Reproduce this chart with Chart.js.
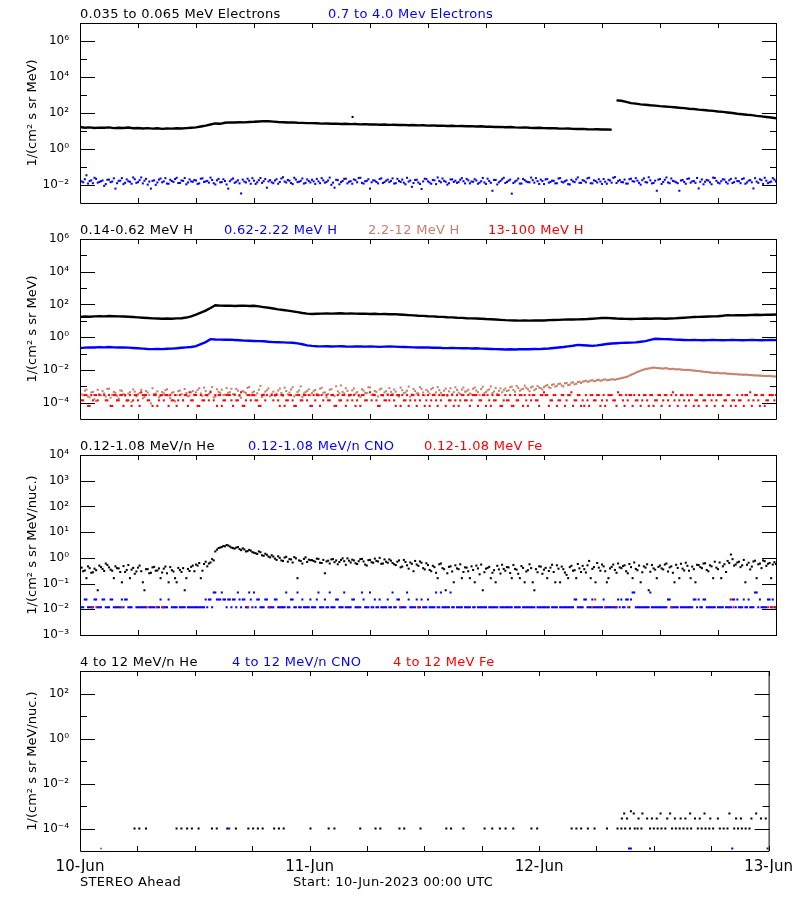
<!DOCTYPE html>
<html>
<head>
<meta charset="utf-8">
<script src="https://cdn.jsdelivr.net/npm/chart.js@4.4.0/dist/chart.umd.min.js"></script>
<style>
  body { margin: 0; background: #fff; }
  #page { position: relative; width: 800px; height: 900px; overflow: hidden; font-family: 'DejaVu Sans', sans-serif; }
  #page canvas { position: absolute; left: 0; }
  .lbl { position: absolute; font-size: 13px; line-height: 15px; white-space: nowrap; letter-spacing: 0.3px; }
</style>
</head>
<body>
<div id="page">
  <canvas id="pElec" width="800" height="204" style="top:11px"></canvas>
  <canvas id="pProt" width="800" height="204" style="top:227px"></canvas>
  <canvas id="pLoZ" width="800" height="204" style="top:443px"></canvas>
  <canvas id="pHiZ" width="800" height="241" style="top:659px"></canvas>
</div>
<script>
// time axis: hours since 10-Jun-2023 00:00 UTC
const xTickHours = [0, 6, 12, 18, 24, 30, 36, 42, 48, 54, 60, 66, 72];
const dayHours = [0, 24, 48, 72];
const dayLabels = ['10-Jun', '11-Jun', '12-Jun', '13-Jun'];

// ---- panel 1: electrons (log10 flux) ----
const p1Names = ['0.035 to 0.065 MeV Electrons', '0.7 to 4.0 Mev Electrons'];
const p1Colors = ['#000000', '#0000ff'];
// 30 min steps
const p1LowELog = [
  1.22, 1.18, 1.20, 1.17, 1.19, 1.18, 1.20, 1.16, 1.18, 1.17, 1.19, 1.15,
  1.17, 1.14, 1.16, 1.13, 1.15, 1.12, 1.14, 1.13, 1.15, 1.14, 1.16, 1.18,
  1.20, 1.25, 1.30, 1.36, 1.42, 1.40, 1.46, 1.48, 1.47, 1.49, 1.48, 1.50,
  1.51, 1.53, 1.55, 1.54, 1.52, 1.50, 1.49, 1.47, 1.48, 1.46, 1.45, 1.44,
  1.44, 1.43, 1.41, 1.42, 1.40, 1.41, 1.39, 1.40, 1.38, 1.39, 1.37, 1.38,
  1.36, 1.37, 1.35, 1.36, 1.34, 1.35, 1.33, 1.34, 1.32, 1.33, 1.31, 1.32,
  1.30, 1.31, 1.29, 1.30, 1.28, 1.29, 1.27, 1.28, 1.26, 1.27, 1.25, 1.26,
  1.24, 1.24, 1.22, 1.23, 1.21, 1.22, 1.20, 1.19, 1.20, 1.18, 1.17, 1.18,
  1.16, 1.15, 1.16, 1.14, 1.13, 1.14, 1.12, 1.11, 1.12, 1.10, 1.09, 1.10,
  1.08, 1.09, 1.07, 2.70, 2.68, 2.62, 2.55, 2.52, 2.48, 2.46, 2.43, 2.41,
  2.38, 2.36, 2.34, 2.32, 2.29, 2.27, 2.24, 2.22, 2.19, 2.17, 2.14, 2.12,
  2.08, 2.06, 2.03, 2.00, 1.96, 1.93, 1.90, 1.88, 1.84, 1.81, 1.78, 1.75,
  1.71
];
const p1LowEOutHours = [28.2];
const p1LowEOutLog = [1.78];
// 20 min steps, on the hour grid
const p1HighELog = [
  -1.72, -1.85, -1.46, -1.78, -1.90, -1.66, -1.83, -1.75, -1.95, -1.70, -1.81, -2.20,
  -1.77, -1.62, -1.88, -1.79, -1.93, -1.68, -1.84, -1.58, -1.76, -1.98, -2.20, -1.74,
  -1.86, -1.64, -1.80, -1.92, -1.71, -1.83, -1.60, -1.89, -1.77, -1.96, -1.69, -1.82,
  -1.75, -1.91, -1.63, -1.80, -1.87, -1.72, -1.97, -1.66, -1.84, -1.78, -2.20, -1.70,
  -1.88, -1.74, -2.47, -1.81, -1.65, -1.93, -1.76, -1.85, -1.61, -1.79, -2.15, -1.73,
  -1.90, -1.68, -1.83, -1.57, -1.86, -1.76, -1.95, -1.70, -1.82, -1.64, -1.88, -1.78,
  -1.71, -1.94, -1.80, -1.62, -1.87, -1.75, -1.99, -2.15, -1.73, -1.84, -1.66, -1.91,
  -1.79, -1.69, -1.85, -1.60, -1.92, -1.77, -2.20, -1.74, -1.83, -1.67, -1.89, -1.76,
  -1.84, -1.63, -1.90, -1.78, -1.70, -1.96, -1.81, -2.10, -1.72, -1.86, -2.22, -1.65,
  -1.80, -1.93, -1.74, -1.58, -1.85, -1.77, -1.98, -1.69, -1.83, -1.88, -1.71, -1.79,
  -1.66, -1.91, -1.82, -1.75, -1.87, -1.61, -1.94, -1.78, -2.32, -1.72, -1.85, -1.68,
  -1.89, -1.76, -2.48, -1.81, -1.64, -1.92, -1.73, -1.84, -1.59, -1.87, -1.79, -1.70,
  -1.95, -1.67, -1.83, -1.77, -1.90, -1.62, -1.86, -1.74, -1.97, -1.80, -1.69, -1.88,
  -1.73, -1.85, -1.60, -1.91, -1.78, -1.68, -1.94, -1.82, -1.71, -1.87, -1.56, -1.79,
  -1.84, -1.70, -1.92, -1.65, -1.81, -1.76, -1.98, -1.63, -1.86, -1.74, -1.89, -2.32,
  -1.67, -1.83, -1.58, -1.90, -1.77, -1.85, -2.32, -1.72, -1.93, -1.64, -1.80, -1.88,
  -2.19, -1.69, -1.82, -1.75, -1.96, -1.61, -1.87, -1.79, -1.70, -1.92, -1.66, -1.84,
  -1.78, -1.90, -1.63, -1.86, -1.73, -2.19, -1.81, -1.68, -1.94, -1.76, -1.85, -1.62,
  -1.80
];
// 20 min steps, 10 min after the grid above
const p1HighELogB = [
  -1.80, -1.68, -1.92, -1.74, -1.60, -1.87, -1.79, -2.05, -1.71, -1.84, -1.63, -1.90,
  -1.76, -1.95, -1.69, -1.82, -1.58, -1.88, -1.73, -1.91, -1.66, -1.81, -1.77, -1.99,
  -1.70, -1.85, -1.62, -1.93, -1.78, -1.67, -1.89, -1.75, -1.61, -1.86, -1.80, -1.72,
  -1.94, -1.65, -1.83, -1.77, -1.59, -1.90, -1.74, -1.85, -1.68, -1.97, -1.79, -1.64,
  -1.82, -1.91, -1.70, -1.86, -1.76, -1.62, -1.94, -1.73, -1.88, -1.67, -1.80, -1.85,
  -1.75, -1.93, -1.64, -1.81, -1.72, -1.89, -1.60, -1.84, -1.77, -1.92, -1.69, -1.86,
  -1.80, -1.66, -1.90, -1.74, -1.83, -1.59, -1.87, -1.71, -1.96, -1.78, -1.65, -1.82,
  -1.93, -1.73, -1.61, -1.88, -1.79, -1.68, -1.85, -1.76, -1.91, -1.63, -1.84, -1.70,
  -1.77, -1.92, -1.66, -1.83, -1.87, -1.60, -1.75, -1.89, -1.71, -1.94, -1.80, -1.67,
  -1.86, -1.72, -1.95, -1.78, -1.64, -1.82, -1.90, -1.69, -1.76, -1.84, -1.62, -1.91,
  -1.74, -1.81, -1.68, -1.93, -1.79, -1.86, -1.65, -1.88, -1.72, -1.97, -1.77, -1.60,
  -1.83, -1.70, -1.89, -1.75, -1.92, -1.66, -1.80, -1.85, -1.73, -1.62, -1.94, -1.78,
  -1.69, -1.87, -1.76, -1.91, -1.64, -1.82, -1.79, -1.95, -1.71, -1.84, -1.58, -1.88,
  -1.77, -1.63, -1.90, -1.74, -1.86, -1.81, -1.67, -1.93, -1.75, -1.60, -1.89, -1.72,
  -1.85, -1.92, -1.68, -1.79, -1.62, -1.88, -1.73, -1.84, -1.57, -1.91, -1.76, -1.70,
  -1.94, -1.71, -1.86, -1.64, -1.80, -1.90, -1.75, -1.83, -1.66, -1.87, -1.78, -1.61,
  -1.82, -1.96, -1.72, -1.85, -1.59, -1.77, -1.91, -1.68, -1.84, -1.74, -1.89, -1.63,
  -1.79, -1.67, -1.93, -1.76, -1.85, -1.62, -1.88, -1.73, -1.60, -1.90, -1.81, -1.70
];

// ---- panel 2: protons ----
const p2Names = ['0.14-0.62 MeV H', '0.62-2.22 MeV H', '2.2-12 MeV H', '13-100 MeV H'];
const p2Colors = ['#000000', '#0000ff', '#c8806a', '#ff0000'];
// 30 min steps
const p2H1Log = [
  1.24, 1.26, 1.25, 1.27, 1.28, 1.27, 1.29, 1.28, 1.27, 1.26, 1.25, 1.23,
  1.21, 1.19, 1.17, 1.15, 1.14, 1.13, 1.14, 1.13, 1.15, 1.16, 1.20, 1.27,
  1.38, 1.50, 1.62, 1.78, 1.95, 1.93, 1.92, 1.93, 1.91, 1.92, 1.93, 1.91,
  1.92, 1.88, 1.84, 1.80, 1.75, 1.70, 1.66, 1.62, 1.58, 1.53, 1.48, 1.44,
  1.42, 1.43, 1.44, 1.45, 1.44, 1.45, 1.46, 1.44, 1.45, 1.44, 1.43, 1.44,
  1.42, 1.43, 1.41, 1.42, 1.40, 1.41, 1.39, 1.37, 1.35, 1.33, 1.31, 1.30,
  1.28, 1.27, 1.25, 1.24, 1.22, 1.21, 1.19, 1.18, 1.16, 1.15, 1.14, 1.13,
  1.11, 1.10, 1.08, 1.06, 1.04, 1.03, 1.02, 1.01, 1.02, 1.01, 1.02, 1.03,
  1.02, 1.04, 1.05, 1.06, 1.07, 1.08, 1.08, 1.09, 1.10, 1.11, 1.13, 1.15,
  1.17, 1.18, 1.16, 1.14, 1.13, 1.12, 1.11, 1.12, 1.13, 1.14, 1.13, 1.14,
  1.14, 1.13, 1.14, 1.15, 1.17, 1.19, 1.21, 1.23, 1.24, 1.25, 1.26, 1.27,
  1.28, 1.31, 1.35, 1.33, 1.34, 1.35, 1.34, 1.36, 1.37, 1.36, 1.38, 1.37,
  1.39
];
const p2H2Log = [
  -0.67, -0.64, -0.62, -0.63, -0.61, -0.62, -0.60, -0.62, -0.63, -0.62, -0.64, -0.66,
  -0.68, -0.70, -0.72, -0.73, -0.72, -0.73, -0.71, -0.70, -0.68, -0.65, -0.62, -0.60,
  -0.55, -0.42, -0.30, -0.12, -0.14, -0.15, -0.16, -0.15, -0.17, -0.19, -0.21, -0.22,
  -0.23, -0.24, -0.25, -0.28, -0.30, -0.31, -0.32, -0.33, -0.34, -0.38, -0.43, -0.50,
  -0.53, -0.55, -0.56, -0.55, -0.57, -0.56, -0.55, -0.57, -0.58, -0.57, -0.56, -0.58,
  -0.57, -0.58, -0.59, -0.58, -0.57, -0.58, -0.59, -0.60, -0.61, -0.62, -0.63, -0.62,
  -0.63, -0.65, -0.64, -0.66, -0.67, -0.66, -0.67, -0.68, -0.67, -0.69, -0.68, -0.70,
  -0.71, -0.72, -0.73, -0.74, -0.75, -0.74, -0.75, -0.74, -0.73, -0.74, -0.72, -0.73,
  -0.71, -0.69, -0.66, -0.63, -0.60, -0.56, -0.52, -0.47, -0.49, -0.51, -0.53, -0.50,
  -0.46, -0.42, -0.39, -0.37, -0.35, -0.34, -0.33, -0.32, -0.28, -0.24, -0.16, -0.10,
  -0.11, -0.12, -0.13, -0.15, -0.16, -0.17, -0.18, -0.17, -0.18, -0.19, -0.18, -0.17,
  -0.18, -0.19, -0.18, -0.17, -0.18, -0.19, -0.18, -0.17, -0.18, -0.19, -0.18, -0.17,
  -0.18
];
// 20 min steps
const p2H3Log = [
  -3.42, -3.55, -3.20, -3.68, -3.35, -3.90, -3.48, -3.30, -3.62, -3.15, -3.52, -3.40,
  -3.75, -3.28, -3.58, -3.45, -3.95, -3.33, -3.50, -3.22, -3.66, -3.38, -4.05, -3.47,
  -3.31, -3.60, -3.43, -3.18, -3.72, -3.36, -3.54, -3.26, -3.85, -3.41, -3.57, -3.29,
  -3.37, -3.12, -3.58, -3.30, -3.46, -3.05, -3.63, -3.34, -3.21, -3.52, -3.40, -3.15,
  -3.48, -3.27, -3.70, -3.36, -3.10, -3.55, -3.32, -3.43, -2.98, -3.50, -3.24, -3.61,
  -3.33, -3.45, -3.14, -3.58, -3.29, -3.39, -3.06, -3.53, -3.25, -3.66, -3.35, -3.19,
  -3.42, -3.23, -3.56, -3.09, -3.38, -3.47, -3.17, -3.60, -3.31, -2.95, -3.44, -3.28,
  -3.52, -3.13, -3.36, -3.65, -3.26, -3.41, -3.07, -3.49, -3.34, -3.20, -3.57, -3.30,
  -3.11, -3.46, -3.33, -3.62, -3.24, -3.38, -3.02, -3.51, -3.29, -3.43, -3.16, -3.55,
  -3.32, -3.18, -3.50, -3.05, -3.40, -3.27, -3.58, -3.12, -3.36, -3.22, -3.47, -3.08,
  -3.30, -3.44, -3.15, -3.26, -3.53, -3.03, -3.35, -3.19, -3.41, -3.10, -3.28, -3.37,
  -3.14, -3.25, -3.02, -3.33, -3.11, -3.20, -2.96, -3.18, -3.07, -3.24, -2.99, -3.12,
  -3.05, -2.92, -3.10, -2.88, -2.97, -2.84, -3.01, -2.80, -2.90, -2.76, -2.85, -2.72,
  -2.72, -2.66, -2.70, -2.63, -2.67, -2.60, -2.64, -2.58, -2.62, -2.57, -2.60, -2.55,
  -2.50, -2.46, -2.40, -2.30, -2.22, -2.12, -2.05, -1.98, -1.93, -1.90, -1.86, -1.88,
  -1.90, -1.92, -1.89, -1.95, -1.93, -1.97, -1.96, -1.99, -2.01, -2.00, -2.03, -2.05,
  -2.07, -2.10, -2.12, -2.14, -2.17, -2.19, -2.18, -2.21, -2.20, -2.23, -2.24, -2.26,
  -2.27, -2.28, -2.30, -2.29, -2.32, -2.33, -2.34, -2.35, -2.36, -2.38, -2.37, -2.39,
  -2.40
];
const p2H3LogB = [
  -3.50, -3.27, -3.63, -3.38, -3.80, -3.22, -3.55, -3.44, -3.16, -3.70, -3.34, -3.58,
  -3.25, -3.47, -3.88, -3.36, -3.19, -3.61, -3.42, -3.74, -3.29, -3.53, -3.12, -3.45,
  -3.67, -3.35, -3.24, -3.56, -3.40, -3.92, -3.30, -3.48, -3.17, -3.62, -3.37, -3.51,
  -3.22, -3.44, -3.08, -3.57, -3.31, -3.68, -3.18, -3.40, -3.53, -3.11, -3.36, -3.49,
  -3.16, -3.60, -3.29, -3.42, -3.04, -3.38, -3.55, -3.21, -3.65, -3.33, -3.13, -3.46,
  -3.58, -3.26, -3.41, -3.09, -3.50, -3.19, -3.62, -3.35, -3.01, -3.44, -3.28, -3.54,
  -3.30, -3.48, -3.15, -3.39, -3.67, -3.21, -3.52, -3.00, -3.43, -3.34, -3.12, -3.58,
  -3.25, -3.45, -3.59, -3.18, -3.40, -3.06, -3.53, -3.29, -3.62, -3.14, -3.37, -3.47,
  -3.34, -3.20, -3.56, -3.08, -3.41, -3.27, -3.63, -3.17, -3.44, -3.05, -3.38, -3.22,
  -3.45, -3.10, -3.37, -3.24, -3.55, -3.14, -3.31, -3.48, -3.06, -3.39, -3.20, -3.33,
  -3.21, -3.50, -3.08, -3.36, -3.17, -3.43, -3.25, -3.01, -3.32, -3.46, -3.13, -3.24,
  -3.29, -3.06, -3.22, -2.98, -3.27, -3.15, -3.09, -3.30, -3.01, -3.16, -3.08, -3.20,
  -2.98, -3.06, -2.91, -3.02, -2.86, -2.95, -2.82, -2.93, -2.78, -2.88, -2.74, -2.80,
  -2.69, -2.73, -2.65, -2.69, -2.62, -2.66, -2.59, -2.63, -2.60, -2.58, -2.57, -2.53,
  -2.48, -2.43, -2.35, -2.26, -2.17, -2.09, -2.01, -1.95, -1.91, -1.87, -1.87, -1.89,
  -1.91, -1.90, -1.92, -1.94, -1.95, -1.96, -1.98, -2.00, -2.00, -2.02, -2.04, -2.06,
  -2.08, -2.11, -2.13, -2.15, -2.18, -2.17, -2.20, -2.21, -2.22, -2.24, -2.25, -2.26,
  -2.28, -2.29, -2.29, -2.31, -2.32, -2.34, -2.34, -2.36, -2.37, -2.37, -2.38, -2.40
];
// 13-100 MeV H sits on count levels: code -> flux
const p2H4Levels = [null, 6.3e-5, 1.38e-4, 2.9e-4, 4.3e-4];
const p2H4Code = [
  3, 2, 3, 1, 2, 3, 3, 0, 2, 3, 1, 3,
  2, 3, 3, 2, 1, 3, 2, 4, 3, 2, 0, 3,
  1, 3, 2, 3, 3, 2, 1, 3, 2, 3, 4, 2,
  3, 1, 2, 3, 2, 0, 3, 3, 1, 2, 3, 2,
  3, 2, 4, 1, 3, 2, 3, 2, 1, 3, 3, 0,
  2, 3, 1, 3, 2, 3, 2, 1, 3, 2, 3, 3,
  1, 2, 3, 3, 0, 2, 3, 1, 3, 2, 3, 2,
  3, 3, 2, 1, 3, 2, 4, 3, 2, 1, 3, 2,
  2, 3, 1, 3, 3, 2, 1, 3, 2, 3, 0, 1,
  3, 2, 3, 1, 2, 3, 3, 2, 1, 3, 2, 3,
  2, 1, 3, 3, 2, 3, 1, 2, 3, 2, 3, 1,
  3, 2, 1, 3, 2, 3, 3, 1, 2, 3, 2, 3,
  4, 3, 2, 3, 1, 2, 3, 2, 3, 1, 2, 3,
  2, 3, 1, 3, 2, 3, 2, 1, 3, 3, 2, 4,
  3, 1, 2, 3, 3, 2, 1, 3, 2, 3, 1, 2,
  3, 2, 3, 1, 4, 3, 2, 3, 1, 2, 3, 2,
  1, 3, 2, 3, 2, 1, 3, 3, 2, 3, 1, 2,
  3, 2, 1, 3, 4, 2, 3, 1, 3, 2, 3, 3,
  3
];
const p2H4CodeB = [
  2, 3, 1, 3, 3, 2, 0, 3, 2, 1, 3, 2,
  3, 1, 2, 3, 2, 3, 1, 3, 3, 2, 1, 3,
  2, 3, 3, 1, 2, 3, 2, 0, 3, 1, 2, 3,
  1, 3, 2, 3, 4, 2, 1, 3, 2, 3, 3, 1,
  2, 3, 1, 2, 3, 3, 2, 1, 3, 2, 0, 3,
  3, 2, 3, 1, 2, 3, 1, 3, 2, 3, 2, 1,
  3, 3, 1, 2, 3, 2, 3, 1, 2, 3, 1, 3,
  2, 1, 3, 3, 2, 0, 2, 3, 1, 3, 2, 3,
  3, 2, 3, 1, 2, 3, 2, 3, 1, 2, 3, 2,
  1, 3, 2, 3, 3, 1, 2, 3, 2, 1, 3, 2,
  3, 2, 3, 1, 2, 3, 3, 1, 2, 3, 1, 2,
  2, 3, 1, 2, 3, 1, 2, 3, 3, 2, 1, 3,
  3, 1, 2, 3, 2, 3, 1, 3, 4, 2, 3, 1,
  1, 2, 3, 2, 3, 1, 3, 2, 3, 2, 1, 3,
  2, 3, 3, 1, 2, 3, 2, 3, 1, 3, 2, 3,
  1, 3, 2, 3, 2, 1, 3, 2, 3, 3, 1, 2,
  3, 2, 1, 3, 3, 2, 3, 1, 2, 3, 2, 1,
  2, 3, 3, 2, 1, 3, 2, 3, 1, 2, 3, 2
];

// ---- panel 3: low energy heavy ions ----
const p3Names = ['0.12-1.08 MeV/n He', '0.12-1.08 MeV/n CNO', '0.12-1.08 MeV Fe'];
const p3Colors = ['#000000', '#0000ff', '#ff0000'];
// 20 min steps
const p3HeLog = [
  -0.45, -0.52, -0.79, -0.40, -0.56, -0.48, -0.30, -0.43, -0.22, -0.37, -0.50, -0.33,
  -0.41, -0.95, -0.55, -0.28, -0.46, -0.62, -0.38, -0.52, -1.26, -0.44, -0.58, -0.35,
  -0.49, -0.79, -0.42, -0.60, -0.36, -0.53, -0.95, -0.47, -0.40, -0.79, -0.51, -0.30,
  -0.26, -0.20, -0.50, -0.15, -0.22, -0.05, 0.25, 0.38, 0.42, 0.45, 0.48, 0.40,
  0.36, 0.42, 0.30, 0.33, 0.26, 0.28, 0.20, 0.15, 0.22, 0.08, 0.12, 0.02,
  0.05, -0.08, 0.00, -0.12, 0.04, -0.05, -0.18, -0.02, -0.10, -0.22, 0.02, -0.07,
  -0.09, -0.15, -0.04, -0.20, -0.60, -0.11, -0.06, -0.17, -0.25, -0.08, -0.13, -0.02,
  -0.18, -0.10, -0.24, -0.05, -0.14, -0.30, -0.08, -0.19, -0.12, 0.00, -0.22, -0.15,
  -0.06, -0.20, -0.28, -0.10, -0.34, -0.16, -0.42, -0.23, -0.12, -0.31, -0.19, -0.45,
  -0.28, -0.52, -0.36, -0.79, -0.22, -0.44, -0.60, -0.33, -0.95, -0.41, -0.25, -0.55,
  -0.38, -0.79, -0.47, -0.30, -0.64, -1.26, -0.42, -0.35, -0.58, -0.95, -0.45, -0.27,
  -0.50, -0.37, -0.79, -0.43, -0.62, -0.32, -0.95, -0.48, -0.40, -1.26, -0.56, -0.34,
  -0.46, -0.79, -0.38, -0.55, -0.29, -0.95, -0.44, -0.66, -0.36, -0.50, -0.79, -0.41,
  -0.31, -0.57, -0.12, -0.43, -0.95, -0.38, -0.26, -0.52, -0.79, -0.35, -0.47, -0.22,
  -0.40, -0.29, -0.60, -0.36, -0.18, -0.48, -0.95, -0.33, -0.25, -0.54, -0.41, -0.79,
  -0.30, -0.45, -0.22, -0.37, -0.58, -0.27, -0.79, -0.42, -0.19, -0.50, -0.34, -0.95,
  -0.28, -0.40, -0.21, -0.52, -0.33, -0.15, -0.44, -0.79, -0.25, -0.12, 0.13, -0.30,
  -0.18, -0.36, -0.08, -0.27, -0.45, -0.14, -0.79, -0.22, -0.10, -0.31, -0.20, -0.26,
  -0.24
];
const p3HeLogB = [
  -0.38, -0.49, -0.33, -0.58, -0.42, -1.26, -0.36, -0.51, -0.28, -0.46, -0.79, -0.40,
  -0.55, -0.32, -0.47, -0.79, -0.39, -0.53, -0.30, -0.95, -0.44, -0.60, -0.37, -0.50,
  -0.41, -0.57, -0.34, -0.95, -0.48, -0.79, -0.39, -0.55, -1.26, -0.43, -0.35, -0.52,
  -0.30, -0.79, -0.24, -0.33, -0.18, -0.10, 0.32, 0.40, 0.46, 0.50, 0.44, 0.38,
  0.40, 0.34, 0.37, 0.25, 0.31, 0.22, 0.18, 0.25, 0.10, 0.16, 0.05, 0.10,
  -0.03, 0.06, -0.10, 0.01, -0.15, -0.06, 0.03, -0.79, -0.12, -0.04, -0.16, -0.09,
  -0.12, -0.03, -0.19, -0.08, -0.14, -0.22, -0.05, -0.10, -0.16, -0.02, -0.27, -0.11,
  -0.07, -0.21, -0.13, -0.04, -0.26, -0.09, -0.17, -0.03, -0.14, -0.23, -0.06, -0.19,
  -0.11, -0.25, -0.15, -0.37, -0.08, -0.29, -0.18, -0.52, -0.26, -0.14, -0.40, -0.21,
  -0.47, -0.31, -0.58, -0.25, -0.40, -1.26, -0.35, -0.53, -0.29, -0.44, -0.79, -0.37,
  -0.52, -0.33, -0.95, -0.41, -0.26, -0.56, -0.39, -0.79, -0.48, -0.31, -0.61, -0.43,
  -0.36, -0.59, -0.28, -0.46, -0.79, -0.39, -0.53, -0.25, -0.95, -0.44, -0.33, -0.62,
  -0.39, -0.51, -0.27, -0.95, -0.42, -0.34, -0.57, -0.79, -0.31, -0.48, -0.24, -0.55,
  -0.44, -0.29, -0.79, -0.36, -0.20, -0.50, -0.33, -0.95, -0.41, -0.26, -0.58, -0.37,
  -0.32, -0.52, -0.24, -0.79, -0.43, -0.30, -0.56, -0.38, -1.26, -0.28, -0.46, -0.35,
  -0.41, -0.26, -0.53, -0.33, -0.95, -0.39, -0.23, -0.49, -0.31, -0.79, -0.44, -0.27,
  -0.36, -0.22, -0.47, -0.29, -0.79, -0.38, -0.18, -0.33, -0.55, -0.20, -0.05, -0.26,
  -0.15, -0.29, -0.95, -0.19, -0.34, -0.11, -0.25, -0.40, -0.13, -0.23, -0.79, -0.17
];
const p3CnoLevels = [null, 0.012, 0.024, 0.045];
const p3CnoCode = [
  2, 1, 2, 1, 1, 2, 1, 2, 1, 1, 2, 1,
  1, 2, 2, 1, 1, 0, 1, 1, 1, 0, 1, 1,
  1, 2, 1, 1, 0, 1, 1, 1, 1, 0, 1, 1,
  1, 1, 1, 2, 2, 1, 3, 2, 3, 2, 2, 1,
  2, 3, 1, 2, 1, 2, 3, 2, 1, 1, 2, 1,
  1, 2, 1, 1, 3, 1, 2, 1, 1, 2, 1, 1,
  1, 1, 3, 1, 2, 1, 1, 1, 2, 1, 3, 1,
  1, 2, 1, 1, 2, 1, 3, 1, 1, 2, 1, 1,
  1, 3, 1, 2, 1, 1, 2, 1, 1, 1, 2, 1,
  2, 1, 1, 1, 3, 1, 1, 3, 1, 1, 1, 0,
  1, 1, 1, 0, 1, 1, 1, 1, 1, 1, 0, 1,
  1, 1, 1, 1, 1, 0, 1, 1, 1, 1, 1, 1,
  1, 1, 0, 1, 1, 1, 1, 1, 1, 1, 2, 1,
  1, 2, 1, 2, 1, 1, 1, 1, 1, 1, 1, 2,
  2, 1, 2, 2, 3, 1, 1, 1, 1, 3, 1, 1,
  1, 1, 1, 2, 1, 1, 0, 1, 1, 1, 1, 2,
  2, 1, 2, 1, 1, 1, 1, 1, 0, 1, 1, 2,
  2, 1, 2, 1, 1, 1, 3, 2, 1, 1, 2, 2,
  1
];
const p3CnoCodeB = [
  1, 2, 1, 1, 2, 1, 1, 2, 1, 2, 1, 1,
  1, 1, 2, 1, 0, 1, 1, 1, 1, 1, 1, 0,
  1, 1, 1, 2, 1, 1, 0, 1, 1, 1, 1, 1,
  1, 1, 1, 1, 2, 3, 2, 2, 2, 1, 2, 2,
  1, 2, 2, 1, 3, 1, 1, 2, 1, 2, 1, 1,
  2, 1, 1, 1, 1, 2, 1, 3, 1, 1, 1, 2,
  1, 2, 1, 1, 1, 3, 1, 2, 1, 1, 1, 1,
  2, 1, 1, 3, 1, 1, 1, 2, 1, 1, 1, 2,
  1, 1, 2, 1, 1, 3, 1, 1, 2, 1, 1, 1,
  1, 1, 3, 1, 1, 1, 1, 1, 0, 1, 1, 1,
  1, 0, 1, 1, 1, 1, 0, 1, 1, 1, 1, 1,
  1, 1, 0, 1, 1, 1, 1, 1, 1, 0, 1, 1,
  1, 1, 1, 1, 0, 1, 1, 1, 1, 2, 1, 1,
  2, 1, 1, 1, 1, 1, 2, 1, 1, 1, 1, 1,
  1, 2, 1, 3, 1, 1, 1, 1, 1, 1, 1, 1,
  1, 1, 2, 1, 1, 1, 1, 1, 1, 1, 2, 1,
  1, 2, 1, 1, 1, 0, 1, 1, 1, 1, 2, 1,
  1, 1, 1, 2, 1, 3, 1, 1, 1, 2, 1, 1
];
const p3FeHours = [1.3, 1.7, 4.3, 6.9, 7.9, 8.6, 17.4, 19.6, 33.1, 35.0, 53.0, 53.3, 54.3, 55.5, 56.7, 61.2, 67.3, 67.6, 71.2, 71.6, 71.9];
const p3FeFlux = [0.012, 0.012, 0.012, 0.012, 0.012, 0.012, 0.012, 0.012, 0.012, 0.012, 0.012, 0.024, 0.012, 0.012, 0.012, 0.012, 0.024, 0.012, 0.012, 0.012, 0.012];

// ---- panel 4: high energy heavy ions ----
const p4Names = ['4 to 12 MeV/n He', '4 to 12 MeV/n CNO', '4 to 12 MeV Fe'];
const p4Colors = ['#000000', '#0000ff', '#ff0000'];
const p4HeBaseFlux = 1.0e-4;
const p4HeBaseHours = [5.7, 6.2, 6.9, 10.1, 10.6, 11.2, 11.7, 12.4, 13.8, 14.3, 15.4, 16.3, 17.6, 18.1, 18.6, 19.1,
  20.3, 20.8, 21.3, 24.1, 26.0, 26.6, 29.3, 30.9, 31.4, 33.4, 33.9, 35.6, 38.3, 38.8, 40.1, 42.3, 43.1, 43.9, 44.5,
  45.3, 47.2, 47.8, 51.4, 51.9, 52.4, 53.1, 53.8, 55.1, 56.2, 56.6, 57.0, 57.5, 58.0, 58.3, 58.7, 59.6, 60.0, 60.4,
  60.8, 61.2, 61.9, 62.3, 62.7, 63.1, 63.5, 63.9, 64.6, 65.0, 65.4, 65.8, 66.2, 66.9, 67.3, 67.7, 68.4, 68.8, 69.2,
  69.6, 70.0];
const p4HeHighHours = [56.65, 56.9, 57.2, 57.6, 57.9, 58.4, 58.8, 59.3, 59.8, 60.3, 60.7, 61.4, 61.7, 62.2, 62.8,
  63.3, 63.8, 64.3, 64.8, 65.3, 65.9, 66.7, 67.9, 68.6, 69.1, 70.2, 70.7, 71.2, 71.7];
const p4HeHighFlux = [2.8e-4, 4.6e-4, 2.8e-4, 5.9e-4, 4.6e-4, 2.8e-4, 4.6e-4, 2.8e-4, 2.8e-4, 2.8e-4, 4.6e-4, 2.8e-4,
  4.6e-4, 2.8e-4, 2.8e-4, 2.8e-4, 4.6e-4, 2.8e-4, 2.8e-4, 4.6e-4, 2.8e-4, 2.8e-4, 4.6e-4, 2.8e-4, 2.8e-4, 2.8e-4,
  4.6e-4, 2.8e-4, 2.8e-4];
const p4CnoHours = [15.6, 57.4, 57.6, 59.6, 68.2, 71.9];
const p4CnoFlux = [1.0e-4, 1.3e-5, 1.3e-5, 1.3e-5, 1.3e-5, 1.3e-5];
const p4FeHours = [2.2];
const p4FeFlux = [1.3e-5];

// axis ticks
const p1YTicks = [1e-2, 1e0, 1e2, 1e4, 1e6];
const p1YLabels = ['10⁻²', '10⁰', '10²', '10⁴', '10⁶'];
const p1YMinor = [1e-1, 1e1, 1e3, 1e5];
const p2YTicks = [1e-4, 1e-2, 1e0, 1e2, 1e4, 1e6];
const p2YLabels = ['10⁻⁴', '10⁻²', '10⁰', '10²', '10⁴', '10⁶'];
const p2YMinor = [1e-3, 1e-1, 1e1, 1e3, 1e5];
const p3YTicks = [1e-3, 1e-2, 1e-1, 1e0, 1e1, 1e2, 1e3, 1e4];
const p3YLabels = ['10⁻³', '10⁻²', '10⁻¹', '10⁰', '10¹', '10²', '10³', '10⁴'];
const p4YTicks = [1e-4, 1e-2, 1e0, 1e2];
const p4YLabels = ['10⁻⁴', '10⁻²', '10⁰', '10²'];
const p4YMinor = [1e-3, 1e-1, 1e1];

const footNames = ['STEREO Ahead', 'Start: 10-Jun-2023 00:00 UTC'];

// ---------- helpers ----------
const fromLog = (logs, stepH, offH = 0) => logs.map((v, i) => ({ x: offH + i * stepH, y: Math.pow(10, v) }));
const fromCodes = (codes, levels, stepH, offH = 0) => codes.map((c, i) => ({ x: offH + i * stepH, y: levels[c] }));
const fromPairs = (hours, flux) => hours.map((h, i) => ({ x: h, y: Array.isArray(flux) ? flux[i] : flux }));

function dots(data, color, r) {
    return {
        data, showLine: false, pointStyle: 'rect', pointRadius: r || 1.45, pointHoverRadius: 0,
        pointBackgroundColor: color, pointBorderWidth: 0, borderColor: color, backgroundColor: color
    };
}

function trace(data, color) {
    return {
        data, showLine: true, borderColor: color, borderWidth: 2.4, pointRadius: 0, tension: 0,
        // no connecting stroke across the big jump
        segment: { borderColor: c => (c.p1.parsed.y > c.p0.parsed.y * 10 ? 'rgba(0,0,0,0)' : undefined) }
    };
}

Chart.defaults.font.family = "'DejaVu Sans', sans-serif";
Chart.defaults.color = '#000';

// box + inward ticks on all four sides
const framePlugin = {
    id: 'frame',
    afterDraw(chart, args, opts) {
        const { ctx, chartArea: a, scales } = chart;
        const x = scales.x, y = scales.y;
        ctx.save();
        ctx.strokeStyle = '#000';
        ctx.lineWidth = 1;
        ctx.beginPath();
        ctx.rect(a.left + 0.5, a.top + 0.5, a.right - a.left, a.bottom - a.top);
        const tick = (vals, len) => vals.forEach(v => {
            const py = Math.round(y.getPixelForValue(v)) + 0.5;
            ctx.moveTo(a.left, py); ctx.lineTo(a.left + len, py);
            ctx.moveTo(a.right + 1, py); ctx.lineTo(a.right + 1 - len, py);
        });
        tick(opts.major || [], 15);
        tick(opts.minor || [], 7);
        xTickHours.forEach(h => {
            const px = Math.round(x.getPixelForValue(h)) + 0.5;
            ctx.moveTo(px, a.bottom); ctx.lineTo(px, a.bottom - 5);
            ctx.moveTo(px, a.top); ctx.lineTo(px, a.top + 5);
        });
        ctx.stroke();
        ctx.restore();
    }
};

function makePanel(id, o) {
    return new Chart(document.getElementById(id), {
        type: 'scatter',
        data: { datasets: o.datasets },
        options: {
            responsive: false,
            animation: false,
            events: [],
            layout: { padding: { left: 0, right: 24, top: 12, bottom: o.padBottom } },
            plugins: {
                legend: { display: false },
                tooltip: { enabled: false },
                frame: { major: o.major, minor: o.minor }
            },
            scales: {
                x: {
                    type: 'linear', min: 0, max: 72, display: o.showX,
                    grid: { display: false, drawTicks: false },
                    border: { display: false },
                    afterBuildTicks: s => { s.ticks = dayHours.map(v => ({ value: v })); },
                    afterFit: s => { if (o.showX) s.height = 22; },
                    ticks: { callback: (v, i) => dayLabels[i], font: { size: 15 }, padding: 7, maxRotation: 0, autoSkip: false }
                },
                y: {
                    type: 'logarithmic', min: o.min, max: o.max,
                    grid: { display: false, drawTicks: false },
                    border: { display: false },
                    afterBuildTicks: s => { s.ticks = o.major.map(v => ({ value: v })); },
                    afterFit: s => { s.width = 80; s.paddingTop = 0; s.paddingBottom = 0; },
                    ticks: { callback: (v, i) => o.labels[i], font: { size: 12 }, padding: 11, autoSkip: false },
                    title: { display: true, text: o.title, font: { size: 13 }, padding: { top: 25, bottom: 0 } }
                }
            }
        },
        plugins: [framePlugin]
    });
}

makePanel('pElec', {
    min: 1e-3, max: 1e7, major: p1YTicks, minor: p1YMinor, labels: p1YLabels,
    title: '1/(cm² s sr MeV)', showX: false, padBottom: 12,
    datasets: [
        trace(fromLog(p1LowELog, 0.5), p1Colors[0]),
        dots(fromPairs(p1LowEOutHours, p1LowEOutLog.map(v => Math.pow(10, v))), p1Colors[0]),
        dots(fromLog(p1HighELog, 1 / 3), p1Colors[1]),
        dots(fromLog(p1HighELogB, 1 / 3, 1 / 6), p1Colors[1])
    ]
});

makePanel('pProt', {
    min: 1e-5, max: 1e6, major: p2YTicks, minor: p2YMinor, labels: p2YLabels,
    title: '1/(cm² s sr MeV)', showX: false, padBottom: 12,
    datasets: [
        dots(fromCodes(p2H4Code, p2H4Levels, 1 / 3), p2Colors[3]),
        dots(fromCodes(p2H4CodeB, p2H4Levels, 1 / 3, 1 / 6), p2Colors[3]),
        trace(fromLog(p2H1Log, 0.5), p2Colors[0]),
        trace(fromLog(p2H2Log, 0.5), p2Colors[1]),
        dots(fromLog(p2H3Log, 1 / 3), p2Colors[2]),
        dots(fromLog(p2H3LogB, 1 / 3, 1 / 6), p2Colors[2])
    ]
});

makePanel('pLoZ', {
    min: 1e-3, max: 1e4, major: p3YTicks, minor: [], labels: p3YLabels,
    title: '1/(cm² s sr MeV/nuc.)', showX: false, padBottom: 12,
    datasets: [
        dots(fromPairs(p3FeHours, p3FeFlux), p3Colors[2]),
        dots(fromCodes(p3CnoCode, p3CnoLevels, 1 / 3), p3Colors[1]),
        dots(fromCodes(p3CnoCodeB, p3CnoLevels, 1 / 3, 1 / 6), p3Colors[1]),
        dots(fromLog(p3HeLog, 1 / 3), p3Colors[0]),
        dots(fromLog(p3HeLogB, 1 / 3, 1 / 6), p3Colors[0])
    ]
});

makePanel('pHiZ', {
    min: 1e-5, max: 1e3, major: p4YTicks, minor: p4YMinor, labels: p4YLabels,
    title: '1/(cm² s sr MeV/nuc.)', showX: true, padBottom: 27,
    datasets: [
        dots(fromPairs(p4FeHours, p4FeFlux), p4Colors[2], 1.1),
        dots(fromPairs(p4CnoHours, p4CnoFlux), p4Colors[1]),
        dots(fromPairs(p4HeBaseHours, p4HeBaseFlux), p4Colors[0]),
        dots(fromPairs(p4HeHighHours, p4HeHighFlux), p4Colors[0])
    ]
});

// legend lines above each panel and footer
const textRows = [
    { top: 6, names: p1Names, colors: p1Colors, lefts: [80, 328] },
    { top: 222, names: p2Names, colors: p2Colors, lefts: [80, 224, 368, 488] },
    { top: 438, names: p3Names, colors: p3Colors, lefts: [80, 248, 424] },
    { top: 654, names: p4Names, colors: p4Colors, lefts: [80, 232, 393] },
    { top: 874, names: footNames, colors: ['#000000', '#000000'], lefts: [80, 293] }
];
const page = document.getElementById('page');
textRows.forEach(row => {
    row.names.forEach((name, i) => {
        const el = document.createElement('div');
        el.className = 'lbl';
        el.textContent = name;
        el.style.left = row.lefts[i] + 'px';
        el.style.top = row.top + 'px';
        el.style.color = row.colors[i];
        page.appendChild(el);
    });
});
</script>
</body>
</html>
